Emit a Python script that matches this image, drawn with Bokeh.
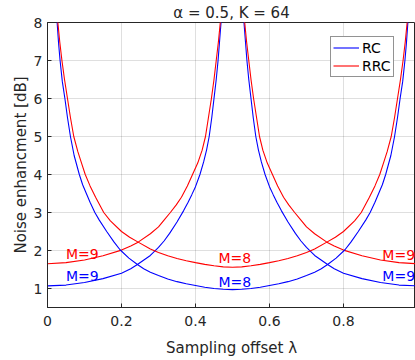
import numpy as np
from bokeh.plotting import figure
from bokeh.models import Range1d, FixedTicker, Legend, LegendItem, Label
from bokeh.embed import file_html
from bokeh.resources import INLINE

NAN = float("nan")

# ---- values; NaN separates the two branches at a pole ----
rc_m9_x = [0.00, 0.05, 0.10, 0.15, 0.20, 0.225, 0.243, 0.278, 0.30, 0.315, 0.33, 0.35, 0.368, 0.38, 0.39, 0.40,
           0.412, 0.422, 0.43, 0.437, 0.444, 0.45, 0.456, 0.461, 0.465, 0.469, 0.473,
           NAN,
           0.527, 0.531, 0.535, 0.539, 0.544, 0.55, 0.556, 0.563, 0.57, 0.578, 0.588, 0.60, 0.61, 0.62, 0.632,
           0.65, 0.67, 0.685, 0.70, 0.722, 0.757, 0.775, 0.80, 0.85, 0.90, 0.95, 1.00]
rc_m9_y = [1.07, 1.09, 1.16, 1.26, 1.40, 1.52, 1.63, 1.87, 2.08, 2.25, 2.45, 2.75, 3.05, 3.27, 3.47, 3.68,
           4.00, 4.33, 4.65, 5.00, 5.50, 6.00, 6.50, 7.00, 7.50, 8.00, 8.75,
           NAN,
           8.75, 8.00, 7.50, 7.00, 6.50, 6.00, 5.50, 5.00, 4.65, 4.33, 4.00, 3.68, 3.47, 3.27, 3.05,
           2.75, 2.45, 2.25, 2.08, 1.87, 1.63, 1.52, 1.40, 1.26, 1.16, 1.09, 1.07]

rrc_m9_x = [0.00, 0.05, 0.10, 0.15, 0.20, 0.225, 0.245, 0.278, 0.30, 0.315, 0.332, 0.348, 0.362, 0.378, 0.392,
            0.406, 0.418, 0.427, 0.435, 0.443, 0.45, 0.456, 0.462, 0.467, 0.473,
            NAN,
            0.527, 0.533, 0.538, 0.544, 0.55, 0.557, 0.565, 0.573, 0.582, 0.594, 0.608, 0.622, 0.638, 0.652,
            0.668, 0.685, 0.70, 0.722, 0.755, 0.775, 0.80, 0.85, 0.90, 0.95, 1.00]
rrc_m9_y = [1.65, 1.68, 1.75, 1.86, 2.01, 2.12, 2.22, 2.44, 2.62, 2.80, 3.00, 3.20, 3.40, 3.70, 4.00,
            4.30, 4.64, 5.00, 5.50, 6.00, 6.50, 7.00, 7.50, 8.00, 8.75,
            NAN,
            8.75, 8.00, 7.50, 7.00, 6.50, 6.00, 5.50, 5.00, 4.64, 4.30, 4.00, 3.70, 3.40, 3.20,
            3.00, 2.80, 2.62, 2.44, 2.22, 2.12, 2.01, 1.86, 1.75, 1.68, 1.65]

rc_m8_x = [0.022, 0.026, 0.030, 0.034, 0.040, 0.047, 0.054, 0.062, 0.072, 0.086, 0.095, 0.105, 0.115, 0.128,
           0.14, 0.16, 0.18, 0.196, 0.22, 0.243, 0.26, 0.278, 0.30, 0.325, 0.35, 0.375, 0.40, 0.425, 0.45,
           0.475, 0.50,
           0.525, 0.55, 0.575, 0.60, 0.625, 0.65, 0.675, 0.70, 0.722, 0.74, 0.757, 0.78, 0.804, 0.82, 0.84,
           0.86, 0.872, 0.885, 0.895, 0.905, 0.914, 0.928, 0.938, 0.946, 0.953, 0.96, 0.966, 0.97, 0.974, 0.978]
rc_m8_y = [8.75, 8.00, 7.45, 7.00, 6.45, 6.00, 5.50, 5.00, 4.50, 4.00, 3.73, 3.50, 3.27, 3.00,
           2.80, 2.50, 2.22, 2.02, 1.80, 1.63, 1.52, 1.43, 1.34, 1.25, 1.18, 1.125, 1.08, 1.035, 1.00,
           0.98, 0.97,
           0.98, 1.00, 1.035, 1.08, 1.125, 1.18, 1.25, 1.34, 1.43, 1.52, 1.63, 1.80, 2.02, 2.22, 2.50,
           2.80, 3.00, 3.27, 3.50, 3.73, 4.00, 4.50, 5.00, 5.50, 6.00, 6.45, 7.00, 7.45, 8.00, 8.75]

rrc_m8_x = [0.023, 0.028, 0.033, 0.039, 0.046, 0.054, 0.062, 0.071, 0.082, 0.092, 0.102, 0.115, 0.13, 0.152,
            0.17, 0.20, 0.222, 0.245, 0.278, 0.30, 0.325, 0.35, 0.375, 0.40, 0.425, 0.45, 0.475, 0.50,
            0.525, 0.55, 0.575, 0.60, 0.625, 0.65, 0.675, 0.70, 0.722, 0.755, 0.778, 0.80, 0.83, 0.848,
            0.87, 0.885, 0.898, 0.908, 0.918, 0.929, 0.938, 0.946, 0.954, 0.961, 0.967, 0.972, 0.977]
rrc_m8_y = [8.75, 8.00, 7.50, 7.00, 6.50, 6.00, 5.50, 5.00, 4.60, 4.30, 4.00, 3.70, 3.40, 3.00,
            2.78, 2.50, 2.35, 2.22, 2.04, 1.95, 1.86, 1.79, 1.73, 1.68, 1.635, 1.60, 1.57, 1.56,
            1.57, 1.60, 1.635, 1.68, 1.73, 1.79, 1.86, 1.95, 2.04, 2.22, 2.35, 2.50, 2.78, 3.00,
            3.40, 3.70, 4.00, 4.30, 4.60, 5.00, 5.50, 6.00, 6.50, 7.00, 7.50, 8.00, 8.75]

x_ticks = [0, 0.2, 0.4, 0.6, 0.8, 1.0]
x_tick_labels = ["0", "0.2", "0.4", "0.6", "0.8", "1"]
y_ticks = [1, 2, 3, 4, 5, 6, 7, 8]
y_tick_labels = ["1", "2", "3", "4", "5", "6", "7", "8"]

title_text = "α = 0.5, K = 64"
series_labels = ["RC", "RRC"]
curve_labels = ["M=9", "M=9", "M=8", "M=8", "M=9", "M=9"]
curve_label_x = [0.05, 0.05, 0.462, 0.462, 0.905, 0.905]
curve_label_y = [1.91, 1.33, 1.79, 1.17, 1.88, 1.33]
curve_label_color = ["#ff0000", "#0000ff", "#ff0000", "#0000ff", "#ff0000", "#0000ff"]

BLUE = "#0000ff"
RED = "#ff0000"
DARK = "#262626"
FONT = "DejaVu Sans"
LW = 1.1

p = figure(width=415, height=360, output_backend="svg", toolbar_location=None, title=title_text,
           x_range=Range1d(0, 0.9946), y_range=Range1d(0.5, 8.0),
           min_border_left=47, min_border_right=0, min_border_top=0, min_border_bottom=53)
p.background_fill_color = "white"
p.border_fill_color = "white"
p.outline_line_color = DARK
p.outline_line_width = 1

p.title.align = "center"
p.title.text_font = FONT
p.title.text_font_size = "15px"
p.title.text_font_style = "normal"
p.title.text_color = DARK
p.title.standoff = 2
p.title.offset = 0

r_rc9 = p.line(np.array(rc_m9_x), np.array(rc_m9_y), line_color=BLUE, line_width=LW)
r_rrc9 = p.line(np.array(rrc_m9_x), np.array(rrc_m9_y), line_color=RED, line_width=LW)
r_rc8 = p.line(np.array(rc_m8_x), np.array(rc_m8_y), line_color=BLUE, line_width=LW)
r_rrc8 = p.line(np.array(rrc_m8_x), np.array(rrc_m8_y), line_color=RED, line_width=LW)

p.xaxis.ticker = FixedTicker(ticks=x_ticks)
p.xaxis.major_label_overrides = {t: s for t, s in zip(x_ticks, x_tick_labels)}
p.yaxis.ticker = FixedTicker(ticks=y_ticks)
p.yaxis.major_label_overrides = {t: s for t, s in zip(y_ticks, y_tick_labels)}
p.xgrid.ticker = FixedTicker(ticks=x_ticks)
p.ygrid.ticker = FixedTicker(ticks=y_ticks)

for ax in (p.xaxis[0], p.yaxis[0]):
    ax.axis_line_color = DARK
    ax.major_tick_line_color = DARK
    ax.major_tick_in = 4
    ax.major_tick_out = 0
    ax.minor_tick_line_color = None
    ax.major_label_text_font = FONT
    ax.major_label_text_font_size = "14px"
    ax.major_label_text_color = DARK
    ax.axis_label_text_font = FONT
    ax.axis_label_text_font_size = "15px"
    ax.axis_label_text_font_style = "normal"
    ax.axis_label_text_color = DARK

p.xaxis.axis_label = "Sampling offset λ"
p.yaxis.axis_label = "Noise enhancment [dB]"
p.xaxis.major_label_standoff = 8
p.xaxis.axis_label_standoff = 10
p.yaxis.major_label_standoff = 5
p.yaxis.axis_label_standoff = 1

p.grid.grid_line_color = DARK
p.grid.grid_line_alpha = 0.15
p.grid.grid_line_width = 1

for t, lx, ly, c in zip(curve_labels, curve_label_x, curve_label_y, curve_label_color):
    p.add_layout(Label(x=lx, y=ly, text=t, text_font=FONT, text_font_size="14px",
                       text_color=c, text_align="left", text_baseline="middle"))

legend = Legend(items=[LegendItem(label=series_labels[0], renderers=[r_rc9]),
                       LegendItem(label=series_labels[1], renderers=[r_rrc9])],
                location=(283, 230), margin=0, padding=2, spacing=1,
                glyph_width=26, glyph_height=17, label_height=17, label_standoff=3,
                label_text_font=FONT, label_text_font_size="14px", label_text_color="black",
                border_line_color=DARK, border_line_width=1, background_fill_color="white",
                background_fill_alpha=1.0)
p.add_layout(legend)

open("out.html", "w").write(file_html(p, INLINE))
